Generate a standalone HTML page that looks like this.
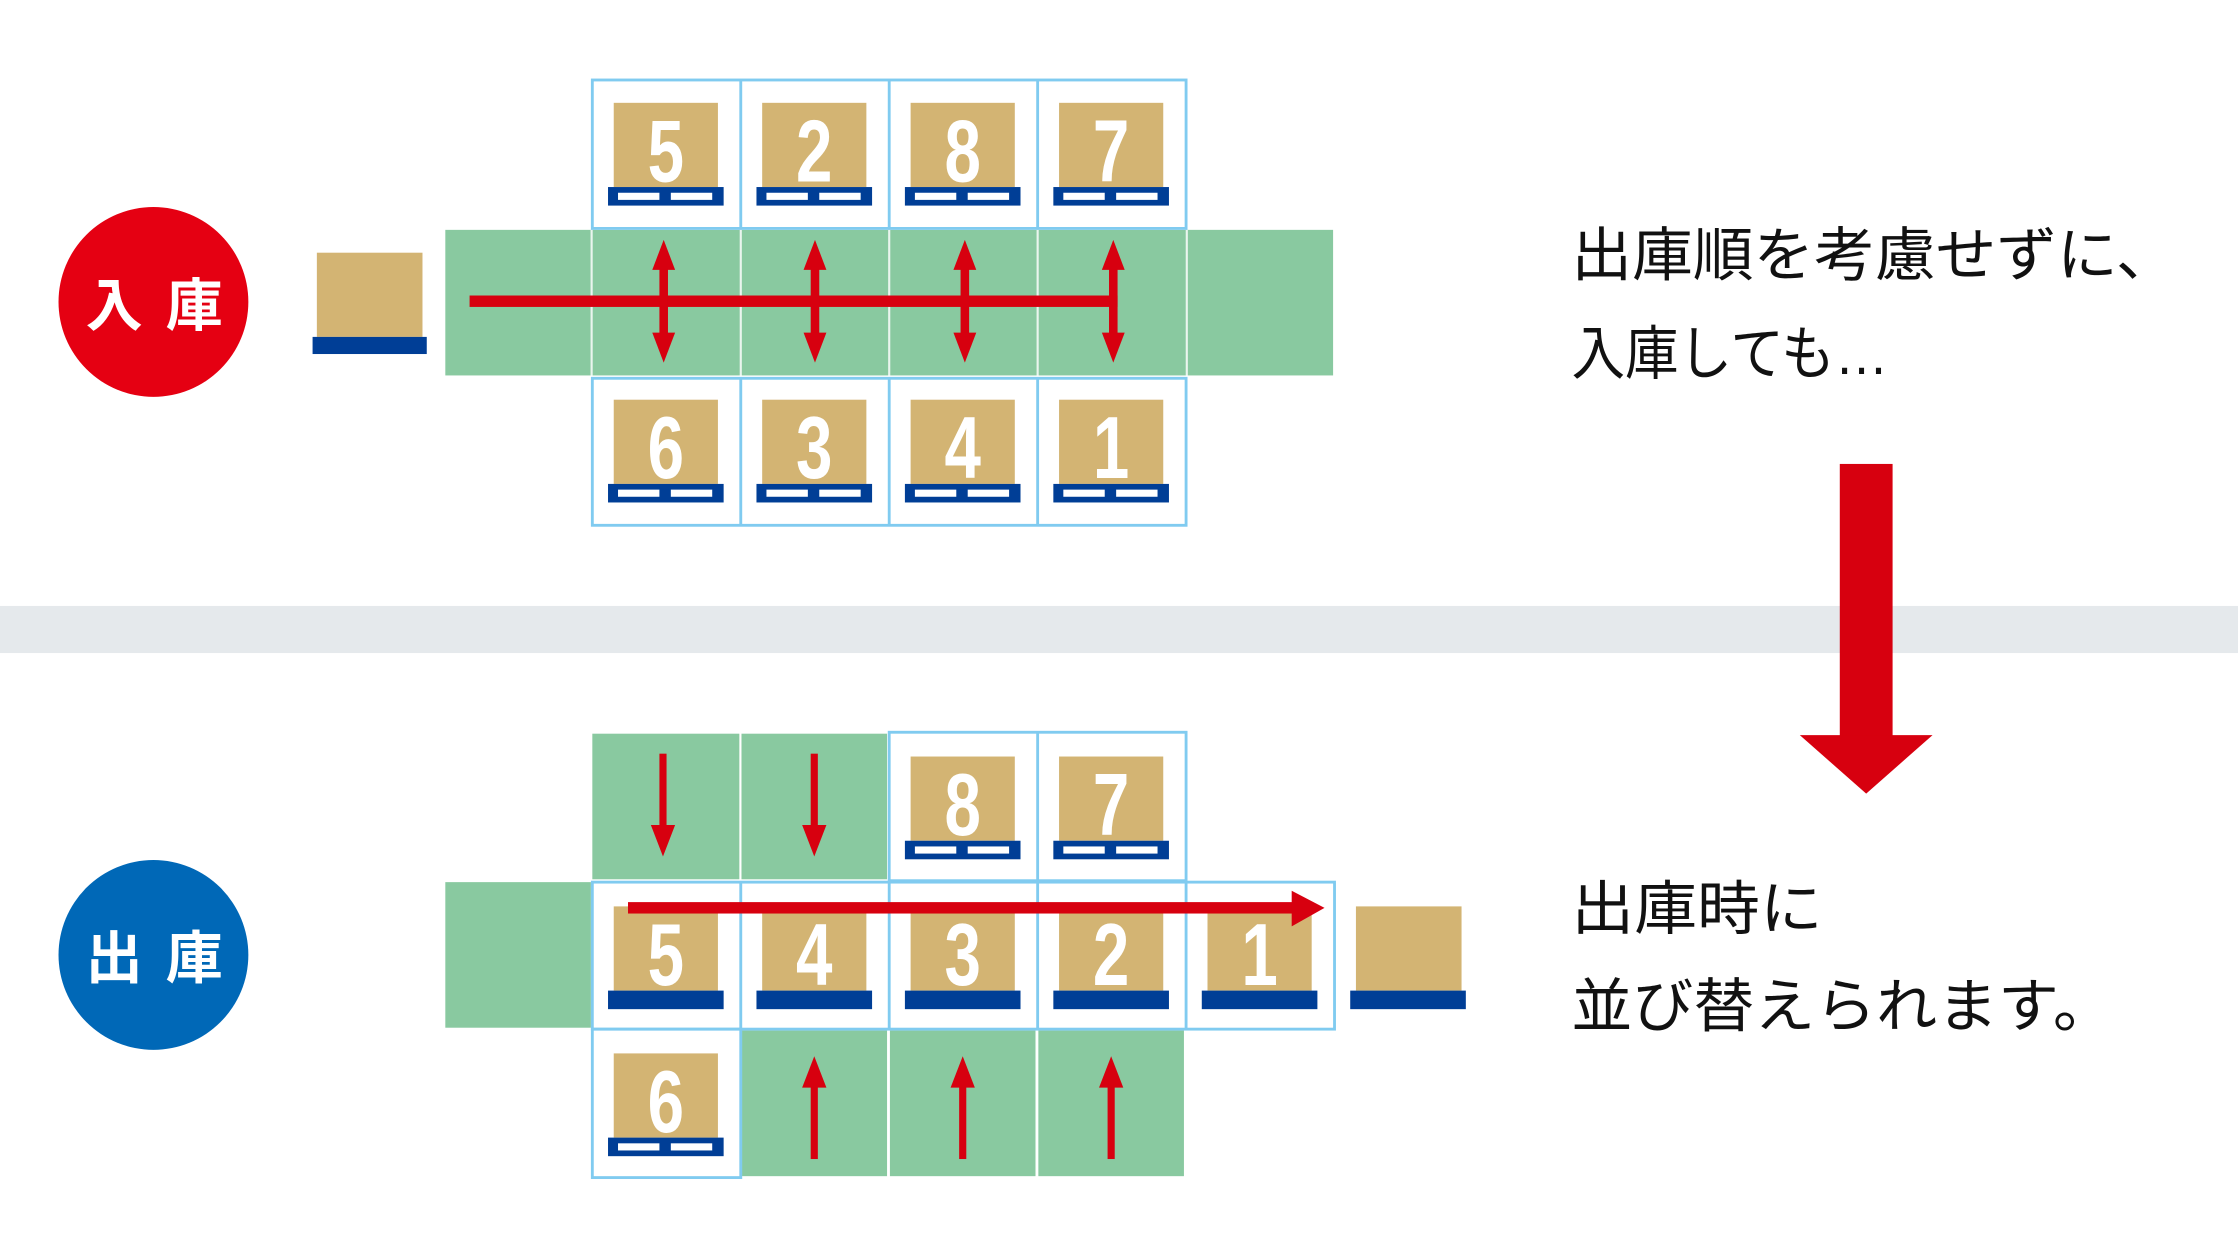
<!DOCTYPE html>
<html><head><meta charset="utf-8"><style>
html,body{margin:0;padding:0;background:#fff;}
svg{display:block;}
.num{font-family:"Liberation Sans",sans-serif;font-weight:bold;font-size:62px;fill:#fff;}
.jp{font-family:"Liberation Sans","Noto Sans CJK JP",sans-serif;font-size:41px;fill:#111;}
.cj{font-family:"Liberation Sans","Noto Sans CJK JP",sans-serif;font-weight:bold;font-size:40px;fill:#fff;}
</style></head><body>
<svg width="2238" height="1259" viewBox="0 0 1568 882" xmlns="http://www.w3.org/2000/svg">
<defs>
<g id="pal">
 <rect x="-4" y="59" width="81" height="13" fill="#003e96"/>
 <rect x="3" y="63" width="29" height="5" fill="#fff"/>
 <rect x="40" y="63" width="29" height="5" fill="#fff"/>
</g>
<g id="spal">
 <rect x="-4" y="59" width="81" height="13" fill="#003e96"/>
</g>
</defs>
<rect width="1568" height="882" fill="#fff"/>
<rect x="0" y="424.5" width="1568" height="33" fill="#e5e9ec"/>

<circle cx="107.5" cy="211.5" r="66.5" fill="#e50012"/>
<text class="cj" x="60" y="228">入</text>
<text class="cj" x="116" y="228">庫</text>

<rect x="222" y="177" width="74" height="59" fill="#d3b473"/>
<rect x="219" y="236" width="80" height="12" fill="#003e96"/>

<rect x="312" y="161" width="622" height="102" fill="#89c9a0"/>
<g stroke="#eaf5ee" stroke-width="1.5">
<line x1="414.5" y1="161" x2="414.5" y2="263"/><line x1="519" y1="161" x2="519" y2="263"/>
<line x1="623" y1="161" x2="623" y2="263"/><line x1="727" y1="161" x2="727" y2="263"/>
<line x1="831.5" y1="161" x2="831.5" y2="263"/>
</g>
<g fill="none" stroke="#80cbf0" stroke-width="2">
<rect x="415" y="56" width="416" height="104"/>
<line x1="519" y1="56" x2="519" y2="160"/><line x1="623" y1="56" x2="623" y2="160"/><line x1="727" y1="56" x2="727" y2="160"/>
<rect x="415" y="265" width="416" height="103"/>
<line x1="519" y1="265" x2="519" y2="368"/><line x1="623" y1="265" x2="623" y2="368"/><line x1="727" y1="265" x2="727" y2="368"/>
</g>
<g>
<rect x="430" y="72" width="73" height="59" fill="#d3b473"/><use href="#pal" x="430" y="72"/>
<rect x="534" y="72" width="73" height="59" fill="#d3b473"/><use href="#pal" x="534" y="72"/>
<rect x="638" y="72" width="73" height="59" fill="#d3b473"/><use href="#pal" x="638" y="72"/>
<rect x="742" y="72" width="73" height="59" fill="#d3b473"/><use href="#pal" x="742" y="72"/>
<text class="num" text-anchor="middle" x="466.5" y="127" transform="translate(466.5 0) scale(0.74 1) translate(-466.5 0)">5</text>
<text class="num" text-anchor="middle" x="570.5" y="127" transform="translate(570.5 0) scale(0.74 1) translate(-570.5 0)">2</text>
<text class="num" text-anchor="middle" x="674.5" y="127" transform="translate(674.5 0) scale(0.74 1) translate(-674.5 0)">8</text>
<text class="num" text-anchor="middle" x="778.5" y="127" transform="translate(778.5 0) scale(0.74 1) translate(-778.5 0)">7</text>
</g>
<g>
<rect x="430" y="280" width="73" height="59" fill="#d3b473"/><use href="#pal" x="430" y="280"/>
<rect x="534" y="280" width="73" height="59" fill="#d3b473"/><use href="#pal" x="534" y="280"/>
<rect x="638" y="280" width="73" height="59" fill="#d3b473"/><use href="#pal" x="638" y="280"/>
<rect x="742" y="280" width="73" height="59" fill="#d3b473"/><use href="#pal" x="742" y="280"/>
<text class="num" text-anchor="middle" x="466.5" y="335" transform="translate(466.5 0) scale(0.74 1) translate(-466.5 0)">6</text>
<text class="num" text-anchor="middle" x="570.5" y="335" transform="translate(570.5 0) scale(0.74 1) translate(-570.5 0)">3</text>
<text class="num" text-anchor="middle" x="674.5" y="335" transform="translate(674.5 0) scale(0.74 1) translate(-674.5 0)">4</text>
<text class="num" text-anchor="middle" x="778.5" y="335" transform="translate(778.5 0) scale(0.74 1) translate(-778.5 0)">1</text>
</g>
<rect x="329" y="207" width="454" height="8" fill="#d7000f"/>
<g fill="#d7000f">
<g id="dbl">
<rect x="462" y="185" width="6" height="55"/>
<polygon points="465,168 473,189 457,189"/>
<polygon points="465,254 473,233 457,233"/>
</g>
<use href="#dbl" x="106"/><use href="#dbl" x="211"/><use href="#dbl" x="315"/>
</g>

<text class="jp" x="1101" y="193" textLength="424" lengthAdjust="spacingAndGlyphs">出庫順を考慮せずに、</text>
<text class="jp" x="1101" y="262" textLength="222" lengthAdjust="spacingAndGlyphs">入庫しても…</text>
<text class="jp" x="1101" y="651" textLength="176" lengthAdjust="spacingAndGlyphs">出庫時に</text>
<text class="jp" x="1101" y="719" textLength="380" lengthAdjust="spacingAndGlyphs">並び替えられます。</text>

<rect x="1289" y="325" width="37" height="192" fill="#d7000f"/>
<polygon points="1261,515 1354,515 1307.5,556" fill="#d7000f"/>

<circle cx="107.5" cy="669" r="66.5" fill="#0068b7"/>
<text class="cj" x="60" y="685">出</text>
<text class="cj" x="116" y="685">庫</text>

<g fill="#89c9a0">
<rect x="415" y="514" width="103" height="102"/>
<rect x="519.5" y="514" width="102" height="102"/>
<rect x="312" y="618" width="102" height="102"/>
<rect x="519.5" y="722" width="102" height="102"/>
<rect x="623.5" y="722" width="102" height="102"/>
<rect x="727.5" y="722" width="102" height="102"/>
</g>
<g fill="none" stroke="#80cbf0" stroke-width="2">
<rect x="623" y="513" width="208" height="104"/>
<line x1="727" y1="513" x2="727" y2="617"/>
<rect x="415" y="618" width="520" height="103"/>
<line x1="519" y1="618" x2="519" y2="721"/><line x1="623" y1="618" x2="623" y2="721"/><line x1="727" y1="618" x2="727" y2="721"/><line x1="831" y1="618" x2="831" y2="721"/>
<rect x="415" y="721" width="104" height="104"/>
</g>
<rect x="638" y="530" width="73" height="59" fill="#d3b473"/><use href="#pal" x="638" y="530"/>
<rect x="742" y="530" width="73" height="59" fill="#d3b473"/><use href="#pal" x="742" y="530"/>
<text class="num" text-anchor="middle" x="674.5" y="585" transform="translate(674.5 0) scale(0.74 1) translate(-674.5 0)">8</text>
<text class="num" text-anchor="middle" x="778.5" y="585" transform="translate(778.5 0) scale(0.74 1) translate(-778.5 0)">7</text>

<rect x="430" y="635" width="73" height="59" fill="#d3b473"/><use href="#spal" x="430" y="635"/>
<rect x="534" y="635" width="73" height="59" fill="#d3b473"/><use href="#spal" x="534" y="635"/>
<rect x="638" y="635" width="73" height="59" fill="#d3b473"/><use href="#spal" x="638" y="635"/>
<rect x="742" y="635" width="73" height="59" fill="#d3b473"/><use href="#spal" x="742" y="635"/>
<rect x="846" y="635" width="73" height="59" fill="#d3b473"/><use href="#spal" x="846" y="635"/>
<rect x="950" y="635" width="74" height="59" fill="#d3b473"/><use href="#spal" x="950" y="635"/>
<text class="num" text-anchor="middle" x="466.5" y="690" transform="translate(466.5 0) scale(0.74 1) translate(-466.5 0)">5</text>
<text class="num" text-anchor="middle" x="570.5" y="690" transform="translate(570.5 0) scale(0.74 1) translate(-570.5 0)">4</text>
<text class="num" text-anchor="middle" x="674.5" y="690" transform="translate(674.5 0) scale(0.74 1) translate(-674.5 0)">3</text>
<text class="num" text-anchor="middle" x="778.5" y="690" transform="translate(778.5 0) scale(0.74 1) translate(-778.5 0)">2</text>
<text class="num" text-anchor="middle" x="882.5" y="690" transform="translate(882.5 0) scale(0.74 1) translate(-882.5 0)">1</text>

<rect x="430" y="738" width="73" height="59" fill="#d3b473"/><use href="#pal" x="430" y="738"/>
<text class="num" text-anchor="middle" x="466.5" y="793" transform="translate(466.5 0) scale(0.74 1) translate(-466.5 0)">6</text>

<g fill="#d7000f">
<rect x="440" y="632" width="470" height="8"/>
<polygon points="905,624 928,636 905,649"/>
<rect x="462" y="528" width="5" height="52"/><polygon points="456,578 473,578 464.5,600"/>
<rect x="568" y="528" width="5" height="52"/><polygon points="562,578 579,578 570.5,600"/>
<rect x="568" y="760" width="5" height="52"/><polygon points="562,762 579,762 570.5,740"/>
<rect x="672" y="760" width="5" height="52"/><polygon points="666,762 683,762 674.5,740"/>
<rect x="776" y="760" width="5" height="52"/><polygon points="770,762 787,762 778.5,740"/>
</g>
</svg>
</body></html>
